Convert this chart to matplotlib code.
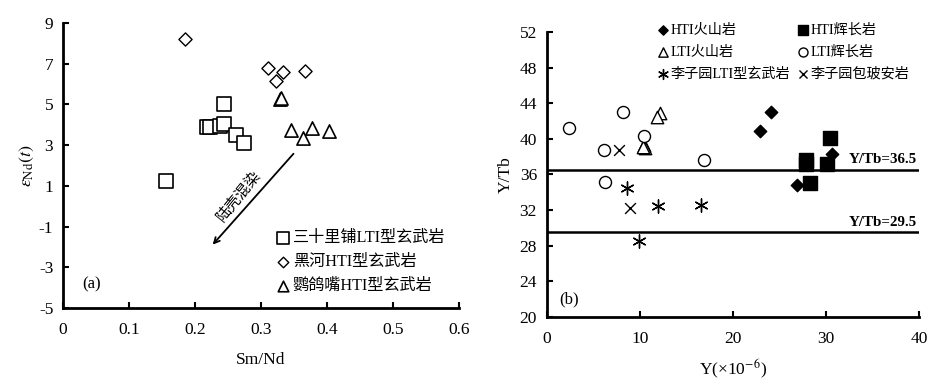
import matplotlib
matplotlib.use("Agg")
import matplotlib.pyplot as plt

plt.rcParams['font.family'] = ['Liberation Serif', 'Noto Sans CJK SC']
plt.rcParams['mathtext.fontset'] = 'stix'
plt.rcParams['axes.unicode_minus'] = False

# ---- panel (a): eNd(t) vs Sm/Nd ----
sq_x = [0.156, 0.218, 0.222, 0.238, 0.244, 0.244, 0.262, 0.275]
sq_y = [1.24, 3.9, 3.9, 3.94, 4.04, 5.0, 3.5, 3.09]
dia_x = [0.185, 0.31, 0.333, 0.323, 0.366]
dia_y = [8.2, 6.8, 6.6, 6.17, 6.64]
tri_x = [0.329, 0.330, 0.346, 0.364, 0.377, 0.403]
tri_y = [5.25, 5.3, 3.74, 3.34, 3.86, 3.7]
arrow_start = (0.352, 2.68)
arrow_end = (0.224, -1.99)

# ---- panel (b): Y/Tb vs Y ----
hti_v_x = [22.9, 24.1, 26.9, 30.6]
hti_v_y = [40.9, 43.0, 34.8, 38.3]
hti_g_x = [30.4, 27.85, 27.85, 30.1, 28.3]
hti_g_y = [40.1, 37.6, 37.2, 37.2, 35.0]
lti_v_x = [12.2, 11.8, 10.45, 10.55, 10.3]
lti_v_y = [42.9, 42.5, 39.3, 38.95, 39.1]
lti_g_x = [2.4, 8.16, 6.19, 6.26, 10.45, 16.9]
lti_g_y = [41.2, 43.0, 38.7, 35.2, 40.3, 37.6]
lzy_b_x = [8.66, 12.0, 16.6, 9.95]
lzy_b_y = [34.45, 32.45, 32.6, 28.55]
lzy_a_x = [7.8, 8.95]
lzy_a_y = [38.8, 32.2]
ref_lines = [36.5, 29.5]

fig = plt.figure(figsize=(9.39, 3.81), dpi=100)

def style_axes(ax):
    for s in ['top', 'right']:
        ax.spines[s].set_visible(False)
    for s in ['left', 'bottom']:
        ax.spines[s].set_linewidth(2)
    ax.tick_params(direction='in', length=4, width=1.5, labelsize=12.5, pad=7)
    ax.tick_params(axis='x', pad=10)

# (a)
ax1 = fig.add_axes([0.0671, 0.1916, 0.4217, 0.748])
style_axes(ax1)
ax1.scatter(sq_x, sq_y, marker='s', s=110, facecolors='white', edgecolors='black', linewidths=1.2,
            label='三十里铺LTI型玄武岩', zorder=3)
ax1.scatter(dia_x, dia_y, marker='D', s=45, facecolors='white', edgecolors='black', linewidths=1.0,
            label='黑河HTI型玄武岩', zorder=3)
ax1.scatter(tri_x, tri_y, marker='^', s=90, facecolors='white', edgecolors='black', linewidths=1.2,
            label='鹦鸽嘴HTI型玄武岩', zorder=3)
ax1.annotate('', xy=arrow_end, xytext=arrow_start,
             arrowprops=dict(arrowstyle='->', color='black', lw=1.3))
ax1.text(0.266, 0.5, '陆壳混染', rotation=51, ha='center', va='center', fontsize=11)
ax1.text(0.044, -3.82, '(a)', fontsize=12, ha='center', va='center')
ax1.set_xlim(0, 0.6)
ax1.set_ylim(-5, 9)
ax1.set_xticks([0, 0.1, 0.2, 0.3, 0.4, 0.5, 0.6])
ax1.set_xticklabels(['0', '0.1', '0.2', '0.3', '0.4', '0.5', '0.6'])
ax1.set_yticks([-5, -3, -1, 1, 3, 5, 7, 9])
ax1.set_xlabel('Sm/Nd', fontsize=12.5, labelpad=10)
ax1.set_ylabel(r'$\varepsilon_{\mathrm{Nd}}(t)$', fontsize=13, labelpad=2)
ax1.legend(loc='lower right', bbox_to_anchor=(0.99, 0.015), frameon=False, fontsize=11.6,
           handletextpad=0.0, labelspacing=0.5, borderaxespad=0.2, handlelength=1.2,
           markerscale=0.8)

# (b)
ax2 = fig.add_axes([0.5822, 0.1688, 0.3965, 0.7465])
style_axes(ax2)
h1 = ax2.scatter(hti_v_x, hti_v_y, marker='D', s=40, color='black', zorder=3)
h2 = ax2.scatter(hti_g_x, hti_g_y, marker='s', s=90, color='black', zorder=3)
h3 = ax2.scatter(lti_v_x, lti_v_y, marker='^', s=80, facecolors='white', edgecolors='black',
                 linewidths=1.0, zorder=3)
h4 = ax2.scatter(lti_g_x, lti_g_y, marker='o', s=75, facecolors='white', edgecolors='black',
                 linewidths=1.0, zorder=3)
h5 = ax2.scatter(lzy_b_x, lzy_b_y, marker=(6, 2, 0), s=90, color='black', linewidths=1.0, zorder=3)
h6 = ax2.scatter(lzy_a_x, lzy_a_y, marker='x', s=60, color='black', linewidths=1.0, zorder=3)
for v in ref_lines:
    ax2.axhline(v, color='black', lw=1.8, zorder=2)
    ax2.text(39.8, v + 0.4, f'Y/Tb={v}', ha='right', va='bottom', fontsize=10.8, fontweight='bold')
ax2.text(2.43, 21.9, '(b)', fontsize=12, ha='center', va='center')
ax2.set_xlim(0, 40)
ax2.set_ylim(20, 52)
ax2.set_xticks([0, 10, 20, 30, 40])
ax2.set_yticks(range(20, 53, 4))
ax2.set_xlabel('Y(×10$^{-6}$)', fontsize=12.5, labelpad=8)
ax2.set_ylabel('Y/Tb', fontsize=12.5, labelpad=4)
handles = [h1, h3, h5, h2, h4, h6]
labels = ['HTI火山岩', 'LTI火山岩', '李子园LTI型玄武岩', 'HTI辉长岩', 'LTI辉长岩', '李子园包玻安岩']
ax2.legend(handles, labels, ncol=2, loc='upper left', bbox_to_anchor=(0.26, 1.075), frameon=False,
           fontsize=10.2, handletextpad=0.0, labelspacing=0.6, columnspacing=0.45,
           handlelength=1.0, markerscale=0.75)

fig.savefig('out.png', dpi=100)
